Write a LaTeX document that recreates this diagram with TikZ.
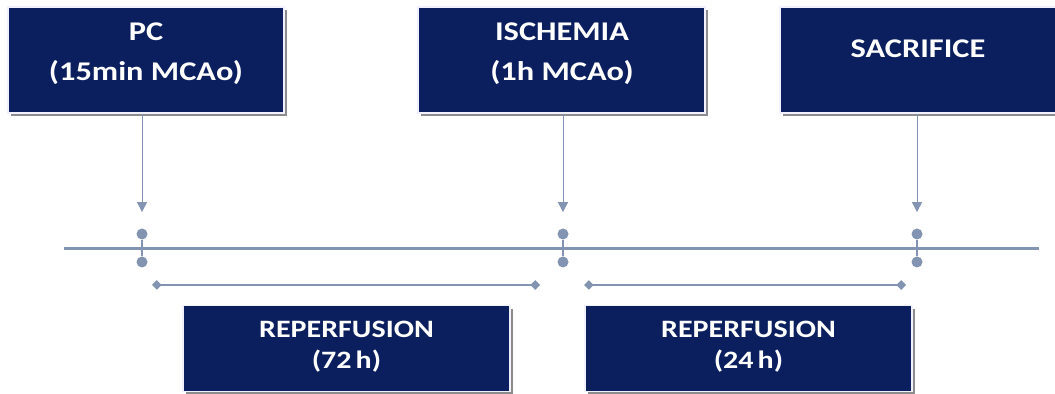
\documentclass[tikz,border=0pt]{standalone}
\usepackage{fontspec}
\setmainfont{Carlito}
\newfontfamily\tboxfont[FakeStretch=1.2]{Carlito}
\usepackage{tikz}
\usetikzlibrary{arrows.meta,shadows,calc}
\definecolor{tnavy}{HTML}{0B1F5E}
\definecolor{tline}{HTML}{8294B2}
\definecolor{tshade}{HTML}{8C8C8C}
\tikzset{
  tbox/.style={rectangle, fill=tnavy, draw=blue!6, line width=0.6pt, inner sep=0pt,
               drop shadow={shadow xshift=1.6pt, shadow yshift=-1.6pt,
                            fill=tshade, opacity=1}},
  ttop/.style={tbox, minimum height=53pt},
  tbot/.style={tbox, minimum width=163.5pt, minimum height=43pt},
  ttext/.style={text=white, font=\tboxfont\bfseries\fontsize{13.5}{20}\selectfont, align=center},
  tsmall/.style={text=white, font=\tboxfont\bfseries\fontsize{12.5}{15.5}\selectfont, align=center},
  tdot/.style={circle, fill=tline, inner sep=0pt, minimum size=5.5pt},
  tarrow/.style={-{Triangle[width=5pt,length=5pt]}, tline, line width=0.5pt},
  tspan/.style={{Turned Square[width=4.8pt,length=4.8pt]}-{Turned Square[width=4.8pt,length=4.8pt]},
                tline, line width=0.6pt},
}

\begin{document}
\begin{tikzpicture}[x=0.5pt, y=-0.5pt]

  % page frame
  \useasboundingbox (0,0) rectangle (1055,394);

  % events above the time line
  \node[ttop, minimum width=138pt] (pc) at (146,60) {};
  \node[ttext] (pctxt) at (146,54) {PC\\(15min MCAo)};
  \node[ttop, minimum width=143.5pt] (isch) at (561.5,60) {};
  \node[ttext] (ischtxt) at (562,54) {ISCHEMIA\\(1h MCAo)};
  \node[ttop, minimum width=141pt] (sacr) at (921,60) {};
  \node[ttext] (sacrtxt) at (918,49) {SACRIFICE};

  % time line
  \coordinate (tstart) at (64,249);
  \coordinate (tend) at (1039,249);
  \draw[tline, line width=1.5pt] (tstart) -- (tend);

  % markers on the time line
  \node[tdot] (pcup) at (142,234) {};
  \node[tdot] (pcdn) at (142,262) {};
  \node[tdot] (ischup) at (563,234) {};
  \node[tdot] (ischdn) at (563,262) {};
  \node[tdot] (sacrup) at (917,234) {};
  \node[tdot] (sacrdn) at (917,262) {};
  \foreach \t in {pc,isch,sacr}
    \draw[tline, line width=0.6pt] (\t up) -- (\t dn);

  % arrows from the boxes
  \foreach \t in {pc,isch,sacr}
    \draw[tarrow, shorten >=8pt] (\t.south -| \t up) -- (\t up);

  % reperfusion spans
  \coordinate (spanA) at (152,285);
  \coordinate (spanB) at (540,285);
  \coordinate (spanC) at (584,285);
  \coordinate (spanD) at (906,285);
  \draw[tspan] (spanA) -- (spanB);
  \draw[tspan] (spanC) -- (spanD);

  % reperfusion boxes
  \node[tbot] (rep1) at (346.5,348.5) {};
  \node[tsmall] (rep1txt) at (346.5,347) {REPERFUSION\\(72\,h)};
  \node[tbot] (rep2) at (748.5,348.5) {};
  \node[tsmall] (rep2txt) at (748.5,347) {REPERFUSION\\(24\,h)};

\end{tikzpicture}
\end{document}
